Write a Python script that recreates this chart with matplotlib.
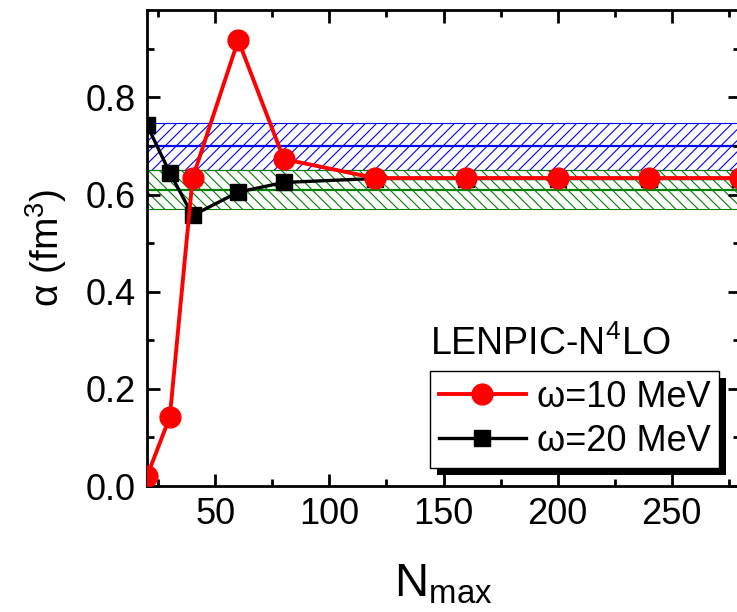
import numpy as np
import matplotlib
matplotlib.use("Agg")
import matplotlib.pyplot as plt
from matplotlib.patches import Rectangle
from matplotlib.ticker import MultipleLocator

plt.rcParams["font.family"] = ["Liberation Sans Narrow", "Liberation Sans", "DejaVu Sans"]
plt.rcParams["mathtext.fontset"] = "custom"
plt.rcParams["mathtext.rm"] = "Liberation Sans"
plt.rcParams["mathtext.it"] = "Liberation Sans:italic"
plt.rcParams["mathtext.default"] = "regular"

# ---------------------------------------------------------------------------
# Data
# ---------------------------------------------------------------------------
nmax = [20, 30, 40, 60, 80, 120, 160, 200, 240, 280]
alpha_w10 = [0.020, 0.142, 0.634, 0.918, 0.673, 0.634, 0.634, 0.634, 0.634, 0.634]
alpha_w20 = [0.743, 0.645, 0.557, 0.605, 0.625, 0.633, 0.633, 0.633, 0.633, 0.633]

# experimental / reference bands: (low, centre, high)
band_blue = (0.650, 0.700, 0.748)
band_green = (0.570, 0.609, 0.650)

label_w10 = "ω=10 MeV"
label_w20 = "ω=20 MeV"
legend_title = "LENPIC-N$^4$LO"

# ---------------------------------------------------------------------------
# Figure
# ---------------------------------------------------------------------------
fig = plt.figure(figsize=(7.37, 6.12), dpi=100)
ax = fig.add_axes([147 / 737, 1 - 486 / 612, 593 / 737, 476 / 612])

# bands
plt.rcParams["hatch.linewidth"] = 0.8
for (lo, mid, hi), col, hatch in [(band_blue, "blue", "///"),
                                  (band_green, "green", "\\\\\\")]:
    ax.axhspan(lo, hi, facecolor="none", edgecolor=col, hatch=hatch, lw=0.0, zorder=1)
    ax.axhline(lo, color=col, lw=0.8, zorder=1)
    ax.axhline(hi, color=col, lw=0.8, zorder=1)
    ax.axhline(mid, color=col, lw=1.6, zorder=1)

ax.plot(nmax, alpha_w20, color="black", lw=2.4, marker="s", ms=11,
        label=label_w20, zorder=3)
ax.plot(nmax, alpha_w10, color="red", lw=2.8, marker="o", ms=15,
        label=label_w10, zorder=4)

ax.set_xlim(20, 280)
ax.set_ylim(0, 0.98)
ax.xaxis.set_major_locator(MultipleLocator(50))
ax.xaxis.set_minor_locator(MultipleLocator(25))
ax.yaxis.set_major_locator(MultipleLocator(0.2))
ax.yaxis.set_minor_locator(MultipleLocator(0.1))
ax.set_yticks([0.0, 0.2, 0.4, 0.6, 0.8])
ax.set_yticklabels(["0.0", "0.2", "0.4", "0.6", "0.8"])
ax.set_xticks([50, 100, 150, 200, 250])

ax.tick_params(which="both", direction="in", top=True, right=True,
               width=2, labelsize=26, pad=8)
ax.tick_params(which="major", length=9)
ax.tick_params(which="minor", length=5)
for sp in ax.spines.values():
    sp.set_linewidth(2)

ax.set_xlabel("N$_{max}$", fontsize=34, labelpad=22)
ax.set_ylabel("α (fm$^3$)", fontsize=28, labelpad=12)

# legend: title sits above the framed box, box has a hard black shadow
handles, labels = ax.get_legend_handles_labels()
order = [1, 0]
leg = ax.legend([handles[i] for i in order], [labels[i] for i in order],
                loc="upper left", bbox_to_anchor=(430 / 737, 1 - 371 / 612),
                bbox_transform=fig.transFigure, borderaxespad=0,
                fontsize=26, handlelength=2.4, handletextpad=0.3,
                labelspacing=0.25, borderpad=0.25, fancybox=False,
                framealpha=1, edgecolor="black")
leg.get_frame().set_linewidth(1.0)
leg.set_zorder(10)

fig.canvas.draw()
bb = leg.get_window_extent().transformed(fig.transFigure.inverted())
shadow = Rectangle((bb.x0 + 7 / 737, bb.y0 - 7 / 612), bb.width, bb.height,
                   transform=fig.transFigure, facecolor="black",
                   edgecolor="none", zorder=9, clip_on=False)
ax.add_patch(shadow)

fig.text(bb.x0, bb.y1 + 8 / 612, legend_title, fontsize=27,
         ha="left", va="bottom")

fig.savefig("out.png", dpi=100)
